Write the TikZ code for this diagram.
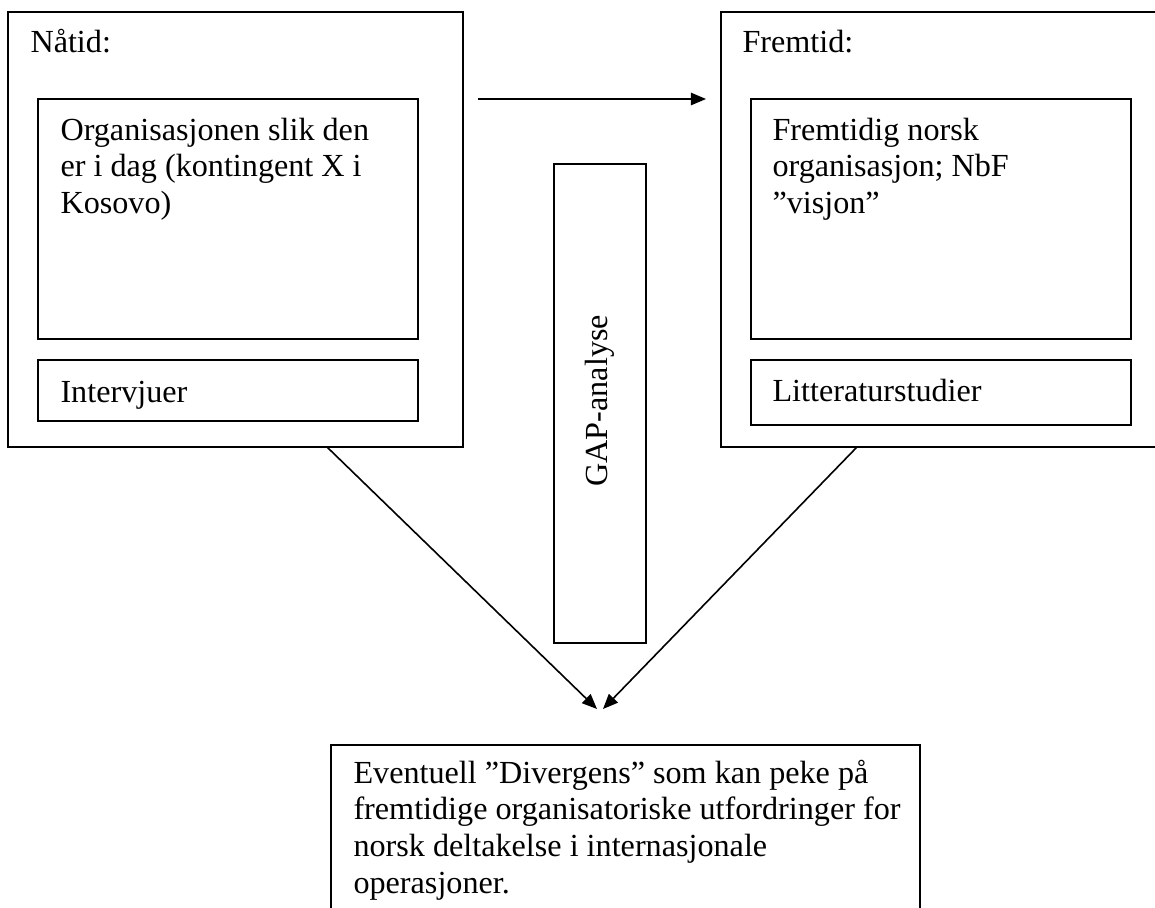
\documentclass[tikz,border=0pt]{standalone}
\usepackage{fontspec}
\setmainfont{Liberation Serif}
\usetikzlibrary{fit,arrows.meta}
\begin{document}
\begin{tikzpicture}[x=0.373pt,y=-0.373pt,
  frame/.style={draw, line width=0.6pt, inner sep=0pt},
  txt/.style={inner sep=0pt, anchor=base west, font=\fontsize{12}{13.8}\selectfont},
  conn/.style={line width=0.6pt, -{Triangle[length=5.6pt,width=4.6pt]}}]
\useasboundingbox (0,0) rectangle (1155,908);
% boxes
\node[frame, fit={(8,12) (463,447)}] (now) {};
\node[frame, fit={(38,99) (418,339)}] (nowin) {};
\node[frame, fit={(38,360) (418,421)}] (intv) {};
\node[frame, fit={(721,12) (1165,447)}] (fut) {};
\node[frame, fit={(751,99) (1131,339)}] (futin) {};
\node[frame, fit={(751,360) (1131,425)}] (lit) {};
\node[frame, fit={(554,164) (646,643)}] (gap) {};
\node[frame, fit={(331,745) (920,940)}] (div) {};
% texts
\node[txt] (nowlbl) at (30,53) {Nåtid:};
\node[txt] (nowtxt) at (60,140) {\begin{tabular}[t]{@{}l@{}}Organisasjonen slik den\\ er i dag (kontingent X i\\ Kosovo)\end{tabular}};
\node[txt] (intvtxt) at (60,402) {Intervjuer};
\node[txt] (futlbl) at (742,53) {Fremtid:};
\node[txt] (futtxt) at (772,140) {\begin{tabular}[t]{@{}l@{}}Fremtidig norsk\\ organisasjon; NbF\\ ”visjon”\end{tabular}};
\node[txt] (littxt) at (772,401) {Litteraturstudier};
\node[txt, rotate=90] (gaptxt) at (607,487) {GAP-analyse};
\node[txt] (divtxt) at (353,783) {\begin{tabular}[t]{@{}l@{}}Eventuell ”Divergens” som kan peke på\\ fremtidige organisatoriske utfordringer for\\ norsk deltakelse i internasjonale\\ operasjoner.\end{tabular}};
% connectors
\coordinate (ta) at (478,99);
\coordinate (tb) at (706,99);
\draw[conn] (ta) -- (tb);
\coordinate (ls) at (327,447);
\coordinate (lt) at (597,709);
\coordinate (rs) at (857,447);
\coordinate (rt) at (603,709);
\draw[conn] (ls) -- (lt);
\draw[conn] (rs) -- (rt);
\end{tikzpicture}
\end{document}
